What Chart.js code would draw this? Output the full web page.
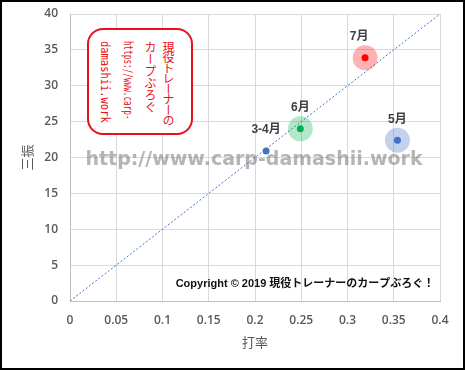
<!DOCTYPE html>
<html><head><meta charset="utf-8">
<script src="https://cdn.jsdelivr.net/npm/chart.js@4"></script>
<style>
html,body{margin:0;padding:0;background:#fff;}
#wrap{position:relative;width:465px;height:370px;overflow:hidden;background:#fff;}
#c{position:absolute;left:0;top:0;}
#frame{position:absolute;left:0;top:0;width:465px;height:370px;box-sizing:border-box;border:2px solid #000;pointer-events:none;}
#stamp{position:absolute;left:87px;top:28px;width:106px;height:107px;box-sizing:border-box;border:2px solid #e8101a;border-radius:16px;background:#fff;}
.col{position:absolute;top:11px;writing-mode:vertical-rl;text-orientation:mixed;color:#e8101a;white-space:nowrap;line-height:1;transform-origin:top center;}
.jp{font-family:"Noto Sans CJK JP",sans-serif;font-size:12px;width:12px;}
.mono{font-family:"DejaVu Sans Mono",monospace;font-size:12px;width:12px;}
</style></head>
<body>
<div id="wrap">
<canvas id="c" width="465" height="370"></canvas>
<div id="stamp">
  <div class="col jp" style="left:73px;letter-spacing:-1.5px;">現役トレーナーの</div>
  <div class="col jp" style="left:55px;">カープぶろぐ</div>
  <div class="col mono" style="left:33px;transform:scaleY(0.64);">https://www.carp-</div>
  <div class="col mono" style="left:10px;transform:scaleY(0.87);">damashii.work</div>
</div>
<div id="frame"></div>
</div>
<script>
const months = ['3-4月', '5月', '6月', '7月'];
const battingAvg = [0.212, 0.354, 0.249, 0.319];
const strikeouts = [20.9, 22.4, 24.0, 33.9];
const pointColors = ['#4472C4', '#4472C4', '#00B050', '#FF0000'];
const haloColors = ['rgba(0,0,0,0)', 'rgba(68,114,196,0.32)', 'rgba(0,176,80,0.3)', 'rgba(255,0,0,0.3)'];
const haloShown = [false, true, true, true];
const refLineX = [0, 0.4];
const refLineY = [0, 40];
const xTickValues = [0, 0.05, 0.1, 0.15, 0.2, 0.25, 0.3, 0.35, 0.4];
const yTickValues = [0, 5, 10, 15, 20, 25, 30, 35, 40];
const xTitle = '打率';
const yTitle = '三振';
const watermark = 'http://www.carp-damashii.work';
const copyright = 'Copyright © 2019 現役トレーナーのカープぶろぐ！';

const points = months.map((m, i) => ({x: battingAvg[i], y: strikeouts[i]}));
const linePts = refLineX.map((x, i) => ({x: x, y: refLineY[i]}));

const GRAY = '#595959';

const decor = {
  id: 'decor',
  beforeDatasetsDraw(chart) {
    const ctx = chart.ctx;
    ctx.save();
    ctx.font = 'bold 19px "DejaVu Sans"';
    ctx.fillStyle = 'rgba(120,120,120,0.55)';
    ctx.textAlign = 'center';
    ctx.textBaseline = 'alphabetic';
    ctx.fillText(watermark, 254, 165);
    ctx.font = 'bold 11px "Liberation Sans", "Noto Sans CJK JP"';
    ctx.fillStyle = '#111';
    ctx.fillText(copyright, 305, 287);
    ctx.restore();
  },
  afterDatasetsDraw(chart) {
    const ctx = chart.ctx;
    const meta = chart.getDatasetMeta(2);
    ctx.save();
    ctx.font = 'bold 12px "Liberation Sans", "Noto Sans CJK JP"';
    ctx.fillStyle = '#404040';
    ctx.textAlign = 'center';
    ctx.textBaseline = 'middle';
    meta.data.forEach((el, i) => {
      const dx = months[i] === '7月' ? -6 : 0;
      ctx.fillText(months[i], el.x + dx, el.y - 21);
    });
    ctx.restore();
  }
};

new Chart(document.getElementById('c'), {
  type: 'scatter',
  data: {
    datasets: [
      {
        type: 'line', data: linePts, borderColor: '#4472C4', borderWidth: 1,
        borderDash: [2, 2], pointRadius: 0, fill: false, order: 3
      },
      {
        data: points, pointRadius: haloShown.map(h => h ? 12.5 : 0),
        pointBackgroundColor: haloColors, pointBorderWidth: 0, order: 2
      },
      {
        data: points, pointRadius: 3.5, pointBackgroundColor: pointColors,
        pointBorderWidth: 0, order: 1
      }
    ]
  },
  options: {
    responsive: false,
    devicePixelRatio: 1,
    animation: false,
    layout: {padding: {left: 0, top: 14, right: 25, bottom: 0}},
    plugins: {legend: {display: false}, tooltip: {enabled: false}},
    scales: {
      x: {
        type: 'linear', min: 0, max: 0.4,
        afterBuildTicks: s => { s.ticks = xTickValues.map(v => ({value: v})); },
        afterFit: s => { s.height = 69; s.paddingLeft = 0; s.paddingRight = 0; },
        grid: {color: '#d9d9d9', drawTicks: false},
        border: {color: '#bfbfbf', width: 1},
        ticks: {
          padding: 12, color: GRAY, maxRotation: 0,
          font: {family: '"Open Sans", sans-serif', size: 12, weight: 600},
          callback: v => String(+Number(v).toFixed(2))
        },
        title: {
          display: true, text: xTitle, color: GRAY,
          font: {family: '"Noto Sans CJK JP", sans-serif', size: 13},
          padding: {top: 0, bottom: 20}
        }
      },
      y: {
        type: 'linear', min: 0, max: 40,
        afterBuildTicks: s => { s.ticks = yTickValues.map(v => ({value: v})); },
        afterFit: s => { s.width = 70; s.paddingTop = 0; s.paddingBottom = 0; },
        grid: {color: '#d9d9d9', drawTicks: false},
        border: {color: '#bfbfbf', width: 1},
        ticks: {
          padding: 12, color: GRAY,
          font: {family: '"Open Sans", sans-serif', size: 12, weight: 600}
        },
        title: {
          display: true, text: yTitle, color: GRAY,
          font: {family: '"Noto Sans CJK JP", sans-serif', size: 13},
          padding: {top: 19, bottom: 0}
        }
      }
    }
  },
  plugins: [decor]
});
</script>
</body></html>
